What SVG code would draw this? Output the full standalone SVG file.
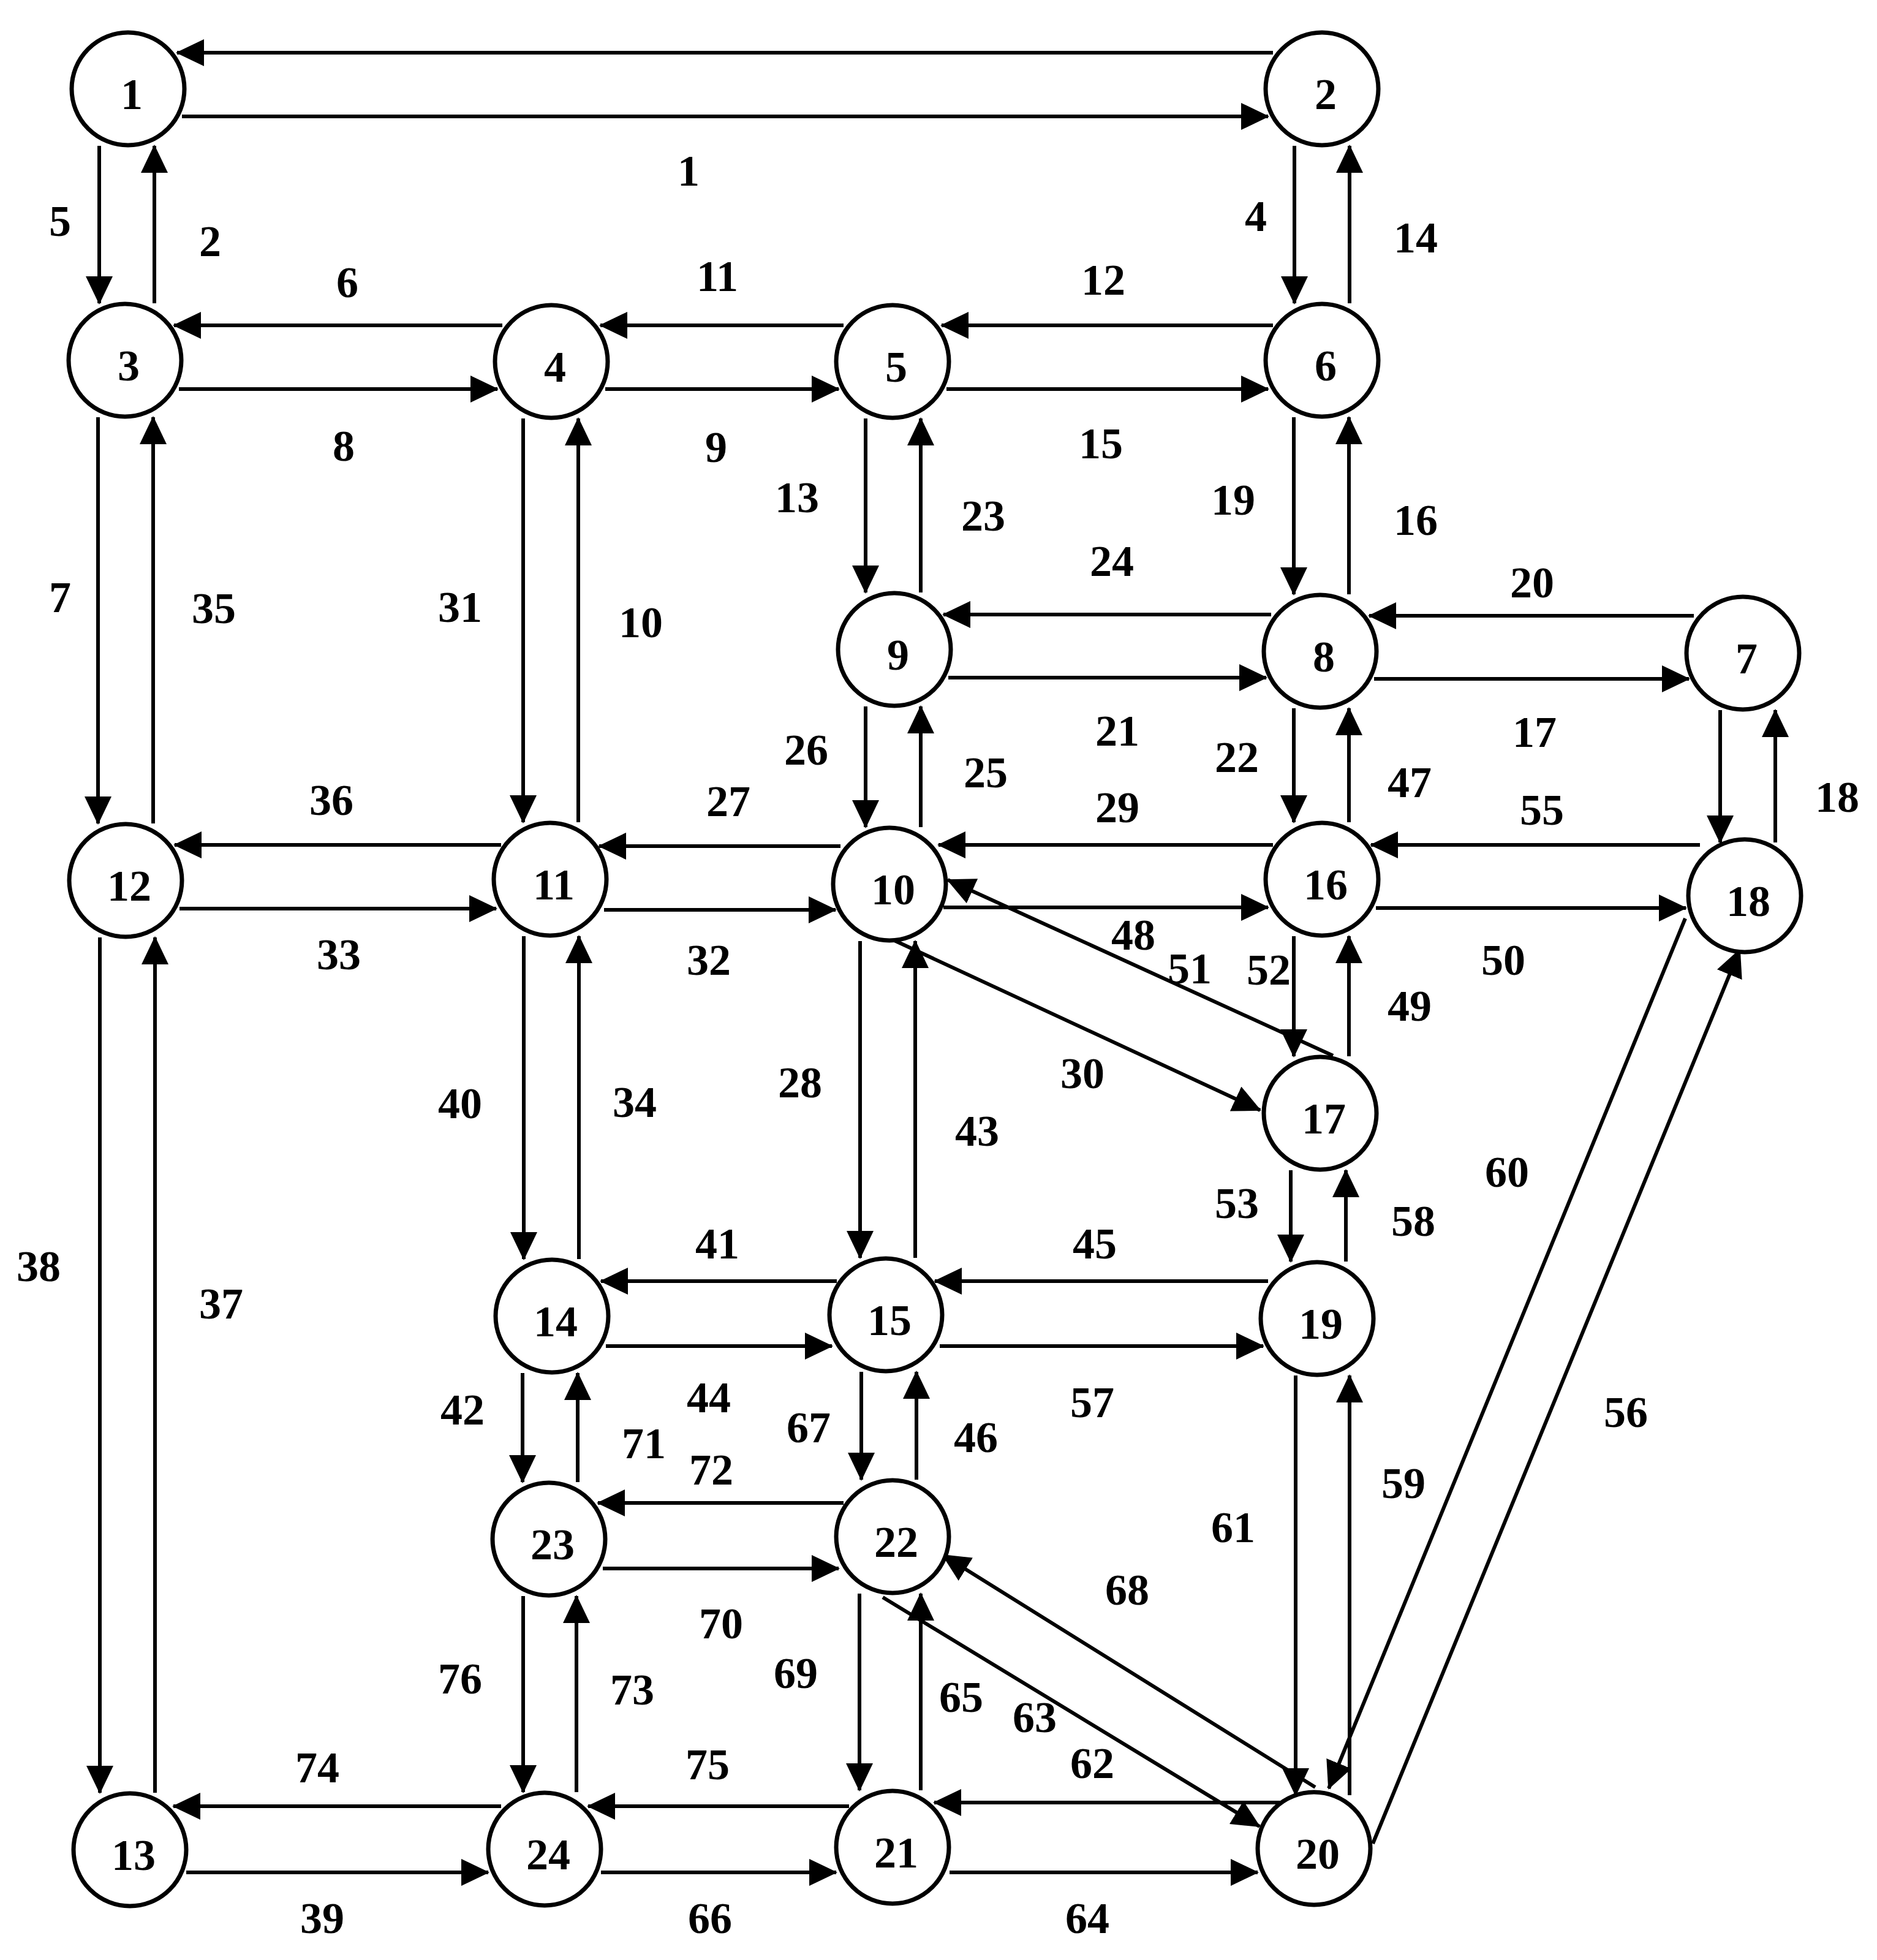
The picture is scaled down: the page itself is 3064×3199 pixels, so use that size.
<svg xmlns="http://www.w3.org/2000/svg" width="3064" height="3199" viewBox="0 0 3064 3199">
<style>
.e{stroke:#000;stroke-width:6;fill:none;marker-end:url(#ah)}
.n circle{fill:#fff;stroke:#000;stroke-width:7}
text{font-family:"Liberation Serif","Times New Roman",serif;font-weight:bold;font-size:72px;fill:#000;text-anchor:middle}
</style>
<defs>
<marker id="ah" markerUnits="userSpaceOnUse" viewBox="0 0 46 44" markerWidth="46" markerHeight="44" refX="44" refY="22" orient="auto"><path d="M0,0 L46,22 L0,44 z" fill="#000"/></marker>
</defs>
<rect width="3064" height="3199" fill="#fff"/>
<g id="connectors">
<line class="e" x1="2078" y1="86" x2="289" y2="86"/>
<line class="e" x1="297" y1="190" x2="2070" y2="190"/>
<line class="e" x1="820" y1="531" x2="284" y2="531"/>
<line class="e" x1="292" y1="635" x2="812" y2="635"/>
<line class="e" x1="1377" y1="531" x2="980" y2="531"/>
<line class="e" x1="988" y1="635" x2="1369" y2="635"/>
<line class="e" x1="2078" y1="531" x2="1537" y2="531"/>
<line class="e" x1="1545" y1="635" x2="2070" y2="635"/>
<line class="e" x1="2075" y1="1003" x2="1540" y2="1003"/>
<line class="e" x1="1548" y1="1106" x2="2067" y2="1106"/>
<line class="e" x1="2765" y1="1005" x2="2235" y2="1005"/>
<line class="e" x1="2243" y1="1108" x2="2757" y2="1108"/>
<line class="e" x1="818" y1="1379" x2="285" y2="1379"/>
<line class="e" x1="293" y1="1483" x2="810" y2="1483"/>
<line class="e" x1="1372" y1="1381" x2="978" y2="1381"/>
<line class="e" x1="986" y1="1485" x2="1364" y2="1485"/>
<line class="e" x1="2078" y1="1379" x2="1532" y2="1379"/>
<line class="e" x1="1540" y1="1481" x2="2070" y2="1481"/>
<line class="e" x1="2775" y1="1379" x2="2238" y2="1379"/>
<line class="e" x1="2246" y1="1482" x2="2752" y2="1482"/>
<line class="e" x1="1366" y1="2091" x2="981" y2="2091"/>
<line class="e" x1="989" y1="2197" x2="1358" y2="2197"/>
<line class="e" x1="2070" y1="2091" x2="1526" y2="2091"/>
<line class="e" x1="1534" y1="2197" x2="2062" y2="2197"/>
<line class="e" x1="1377" y1="2453" x2="976" y2="2453"/>
<line class="e" x1="984" y1="2560" x2="1369" y2="2560"/>
<line class="e" x1="818" y1="2948" x2="283" y2="2948"/>
<line class="e" x1="304" y1="3056" x2="797" y2="3056"/>
<line class="e" x1="1386" y1="2948" x2="960" y2="2948"/>
<line class="e" x1="981" y1="3056" x2="1365" y2="3056"/>
<line class="e" x1="2100" y1="2942" x2="1525" y2="2942"/>
<line class="e" x1="1550" y1="3056" x2="2053" y2="3056"/>
<line class="e" x1="162" y1="238" x2="162" y2="495"/>
<line class="e" x1="252" y1="495" x2="252" y2="238"/>
<line class="e" x1="2113" y1="238" x2="2113" y2="495"/>
<line class="e" x1="2203" y1="495" x2="2203" y2="238"/>
<line class="e" x1="160" y1="681" x2="160" y2="1344"/>
<line class="e" x1="250" y1="1344" x2="250" y2="681"/>
<line class="e" x1="854" y1="683" x2="854" y2="1342"/>
<line class="e" x1="944" y1="1342" x2="944" y2="683"/>
<line class="e" x1="1413" y1="683" x2="1413" y2="967"/>
<line class="e" x1="1503" y1="967" x2="1503" y2="683"/>
<line class="e" x1="2112" y1="681" x2="2112" y2="970"/>
<line class="e" x1="2202" y1="970" x2="2202" y2="681"/>
<line class="e" x1="1413" y1="1153" x2="1413" y2="1350"/>
<line class="e" x1="1503" y1="1350" x2="1503" y2="1153"/>
<line class="e" x1="2112" y1="1156" x2="2112" y2="1342"/>
<line class="e" x1="2202" y1="1342" x2="2202" y2="1156"/>
<line class="e" x1="2808" y1="1159" x2="2808" y2="1375"/>
<line class="e" x1="2898" y1="1375" x2="2898" y2="1159"/>
<line class="e" x1="163" y1="1530" x2="163" y2="2926"/>
<line class="e" x1="253" y1="2926" x2="253" y2="1530"/>
<line class="e" x1="855" y1="1528" x2="855" y2="2055"/>
<line class="e" x1="945" y1="2055" x2="945" y2="1528"/>
<line class="e" x1="1404" y1="1536" x2="1404" y2="2053"/>
<line class="e" x1="1494" y1="2053" x2="1494" y2="1536"/>
<line class="e" x1="2112" y1="1528" x2="2112" y2="1724"/>
<line class="e" x1="2202" y1="1724" x2="2202" y2="1528"/>
<line class="e" x1="2107" y1="1910" x2="2107" y2="2059"/>
<line class="e" x1="2197" y1="2059" x2="2197" y2="1910"/>
<line class="e" x1="853" y1="2241" x2="853" y2="2419"/>
<line class="e" x1="943" y1="2419" x2="943" y2="2241"/>
<line class="e" x1="1406" y1="2239" x2="1406" y2="2415"/>
<line class="e" x1="1496" y1="2415" x2="1496" y2="2239"/>
<line class="e" x1="2115" y1="2245" x2="2115" y2="2930"/>
<line class="e" x1="2203" y1="2930" x2="2203" y2="2245"/>
<line class="e" x1="854" y1="2605" x2="854" y2="2925"/>
<line class="e" x1="941" y1="2925" x2="941" y2="2605"/>
<line class="e" x1="1403" y1="2601" x2="1403" y2="2922"/>
<line class="e" x1="1503" y1="2922" x2="1503" y2="2601"/>
<line class="e" x1="2176" y1="1723" x2="1547" y2="1436"/>
<line class="e" x1="1460" y1="1535" x2="2057" y2="1812"/>
<line class="e" x1="2147" y1="2917" x2="1539" y2="2538"/>
<line class="e" x1="1441" y1="2607" x2="2056" y2="2981"/>
<line class="e" x1="2751" y1="1499" x2="2169" y2="2919"/>
<line class="e" x1="2241" y1="3009" x2="2840" y2="1550"/>
</g>
<g id="link-labels">
<text x="1124" y="303">1</text>
<text x="98" y="385">5</text>
<text x="343" y="418">2</text>
<text x="2050" y="377">4</text>
<text x="2311" y="412">14</text>
<text x="567" y="485">6</text>
<text x="1171" y="475">11</text>
<text x="1801" y="481">12</text>
<text x="561" y="752">8</text>
<text x="1169" y="754">9</text>
<text x="1797" y="748">15</text>
<text x="1301" y="836">13</text>
<text x="1605" y="866">23</text>
<text x="2013" y="840">19</text>
<text x="2311" y="873">16</text>
<text x="1815" y="940">24</text>
<text x="2501" y="975">20</text>
<text x="98" y="999">7</text>
<text x="349" y="1017">35</text>
<text x="751" y="1015">31</text>
<text x="1046" y="1040">10</text>
<text x="1824" y="1217">21</text>
<text x="2505" y="1219">17</text>
<text x="1316" y="1248">26</text>
<text x="1609" y="1285">25</text>
<text x="2019" y="1260">22</text>
<text x="2301" y="1301">47</text>
<text x="2999" y="1325">18</text>
<text x="541" y="1330">36</text>
<text x="1189" y="1332">27</text>
<text x="1824" y="1342">29</text>
<text x="2517" y="1346">55</text>
<text x="1850" y="1550">48</text>
<text x="1942" y="1605">51</text>
<text x="2071" y="1607">52</text>
<text x="553" y="1582">33</text>
<text x="1157" y="1591">32</text>
<text x="2454" y="1591">50</text>
<text x="2301" y="1666">49</text>
<text x="1767" y="1776">30</text>
<text x="1306" y="1791">28</text>
<text x="751" y="1825">40</text>
<text x="1036" y="1823">34</text>
<text x="1595" y="1870">43</text>
<text x="2460" y="1937">60</text>
<text x="2019" y="1988">53</text>
<text x="2307" y="2017">58</text>
<text x="1171" y="2054">41</text>
<text x="1787" y="2054">45</text>
<text x="63" y="2091">38</text>
<text x="361" y="2152">37</text>
<text x="1157" y="2305">44</text>
<text x="1783" y="2313">57</text>
<text x="755" y="2325">42</text>
<text x="2654" y="2329">56</text>
<text x="1320" y="2354">67</text>
<text x="1593" y="2370">46</text>
<text x="1051" y="2380">71</text>
<text x="1161" y="2423">72</text>
<text x="2291" y="2445">59</text>
<text x="2013" y="2517">61</text>
<text x="1840" y="2619">68</text>
<text x="1177" y="2674">70</text>
<text x="1299" y="2755">69</text>
<text x="751" y="2764">76</text>
<text x="1032" y="2782">73</text>
<text x="1569" y="2794">65</text>
<text x="1689" y="2827">63</text>
<text x="1783" y="2902">62</text>
<text x="518" y="2909">74</text>
<text x="1155" y="2904">75</text>
<text x="526" y="3155">39</text>
<text x="1159" y="3155">66</text>
<text x="1775" y="3155">64</text>
</g>
<g id="node1" class="n"><circle cx="209" cy="145" r="92"/><text x="215" y="178">1</text></g>
<g id="node2" class="n"><circle cx="2158" cy="145" r="92"/><text x="2164" y="178">2</text></g>
<g id="node3" class="n"><circle cx="204" cy="588" r="92"/><text x="210" y="621">3</text></g>
<g id="node4" class="n"><circle cx="900" cy="590" r="92"/><text x="906" y="623">4</text></g>
<g id="node5" class="n"><circle cx="1457" cy="590" r="92"/><text x="1463" y="623">5</text></g>
<g id="node6" class="n"><circle cx="2158" cy="588" r="92"/><text x="2164" y="621">6</text></g>
<g id="node7" class="n"><circle cx="2845" cy="1066" r="92"/><text x="2851" y="1099">7</text></g>
<g id="node8" class="n"><circle cx="2155" cy="1063" r="92"/><text x="2161" y="1096">8</text></g>
<g id="node9" class="n"><circle cx="1460" cy="1060" r="92"/><text x="1466" y="1093">9</text></g>
<g id="node10" class="n"><circle cx="1452" cy="1443" r="92"/><text x="1458" y="1476">10</text></g>
<g id="node11" class="n"><circle cx="898" cy="1435" r="92"/><text x="904" y="1468">11</text></g>
<g id="node12" class="n"><circle cx="205" cy="1437" r="92"/><text x="211" y="1470">12</text></g>
<g id="node13" class="n"><circle cx="212" cy="3019" r="92"/><text x="218" y="3052">13</text></g>
<g id="node14" class="n"><circle cx="901" cy="2148" r="92"/><text x="907" y="2181">14</text></g>
<g id="node15" class="n"><circle cx="1446" cy="2146" r="92"/><text x="1452" y="2179">15</text></g>
<g id="node16" class="n"><circle cx="2158" cy="1435" r="92"/><text x="2164" y="1468">16</text></g>
<g id="node17" class="n"><circle cx="2155" cy="1817" r="92"/><text x="2161" y="1850">17</text></g>
<g id="node18" class="n"><circle cx="2848" cy="1462" r="92"/><text x="2854" y="1495">18</text></g>
<g id="node19" class="n"><circle cx="2150" cy="2152" r="92"/><text x="2156" y="2185">19</text></g>
<g id="node20" class="n"><circle cx="2145" cy="3017" r="92"/><text x="2151" y="3050">20</text></g>
<g id="node21" class="n"><circle cx="1457" cy="3015" r="92"/><text x="1463" y="3048">21</text></g>
<g id="node22" class="n"><circle cx="1457" cy="2508" r="92"/><text x="1463" y="2541">22</text></g>
<g id="node23" class="n"><circle cx="896" cy="2512" r="92"/><text x="902" y="2545">23</text></g>
<g id="node24" class="n"><circle cx="889" cy="3018" r="92"/><text x="895" y="3051">24</text></g>
</svg>
